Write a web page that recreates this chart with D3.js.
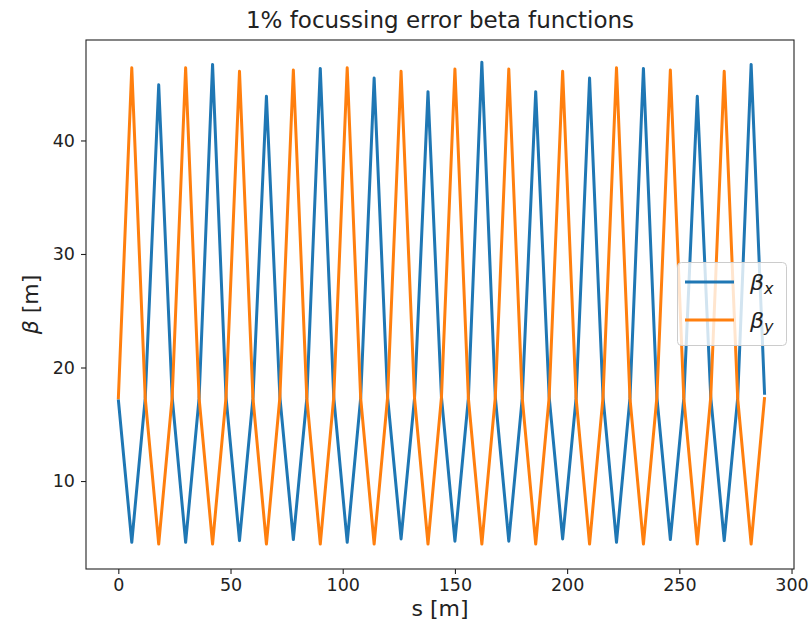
<!DOCTYPE html>
<html lang="en">
  <head>
    <meta charset="UTF-8" />
    <title>beta functions</title>
    <style>
      body {
        margin: 0;
        background: #fff;
      }
      svg text {
        font-family: "DejaVu Sans", sans-serif;
        fill: #222;
      }
    </style>
  </head>
  <body>
    <svg width="811" height="623" id="chart"></svg>

    <script src="https://d3js.org/d3.v7.min.js"></script>
    <script>
      // positions along the ring [m]
      var sPos = [
        0, 6, 12, 18, 24, 30, 36, 42, 48, 54, 60, 66, 72, 78, 84, 90, 96,
        102, 108, 114, 120, 126, 132, 138, 144, 150, 156, 162, 168, 174, 180,
        186, 192, 198, 204, 210, 216, 222, 228, 234, 240, 246, 252, 258, 264,
        270, 276, 282, 288
      ];
      var betaX = [
        17.2, 4.6, 17.3, 44.9, 17.4, 4.6, 17.3, 46.7, 17.4, 4.75, 17.3, 43.9,
        17.4, 4.85, 17.3, 46.35, 17.4, 4.6, 17.3, 45.5, 17.4, 4.9, 17.3, 44.3,
        17.4, 4.7, 17.3, 46.9, 17.4, 4.7, 17.3, 44.3, 17.4, 4.9, 17.3, 45.5,
        17.4, 4.6, 17.3, 46.35, 17.4, 4.85, 17.3, 43.9, 17.4, 4.75, 17.3, 46.7,
        17.6
      ];
      var betaY = [
        17.2, 46.4, 17.3, 4.45, 17.4, 46.4, 17.3, 4.45, 17.4, 46.1, 17.3, 4.45,
        17.4, 46.2, 17.3, 4.45, 17.4, 46.4, 17.3, 4.45, 17.4, 46.1, 17.3, 4.45,
        17.4, 46.3, 17.3, 4.45, 17.4, 46.3, 17.3, 4.45, 17.4, 46.1, 17.3, 4.45,
        17.4, 46.4, 17.3, 4.45, 17.4, 46.2, 17.3, 4.45, 17.4, 46.1, 17.3, 4.45,
        17.4
      ];
      var xTicks = [0, 50, 100, 150, 200, 250, 300];
      var yTicks = [10, 20, 30, 40];

      // note: "top" is taken by window.top, so use own names
      var padL = 86, padR = 794, padT = 40, padB = 569;
      var canvas = d3.select("#chart");

      var x = d3.scaleLinear().domain([-14.4, 301.1]).range([padL, padR]);
      var y = d3.scaleLinear().domain([2.25, 48.85]).range([padB, padT]);

      var clip = canvas.append("clipPath").attr("id", "plotclip");
      clip.append("rect")
        .attr("x", padL).attr("y", padT)
        .attr("width", padR - padL).attr("height", padB - padT);

      var series = [
        { name: "x", values: betaX, color: "#1f77b4" },
        { name: "y", values: betaY, color: "#ff7f0e" }
      ];

      var line = d3.line()
        .x(function (d) { return x(d[0]); })
        .y(function (d) { return y(d[1]); });

      canvas.append("g")
        .attr("clip-path", "url(#plotclip)")
        .selectAll("path")
        .data(series)
        .join("path")
        .attr("d", function (d) {
          return line(sPos.map(function (s, i) { return [s, d.values[i]]; }));
        })
        .attr("fill", "none")
        .attr("stroke", function (d) { return d.color; })
        .attr("stroke-width", 3)
        .attr("stroke-linejoin", "round");

      // axes
      var xAxis = canvas.append("g")
        .attr("transform", "translate(0," + padB + ")")
        .call(d3.axisBottom(x).tickValues(xTicks).tickSize(5).tickPadding(5).tickFormat(d3.format("d")));
      var yAxis = canvas.append("g")
        .attr("transform", "translate(" + padL + ",0)")
        .call(d3.axisLeft(y).tickValues(yTicks).tickSize(5).tickPadding(6).tickFormat(d3.format("d")));
      [xAxis, yAxis].forEach(function (ax) {
        ax.select(".domain").remove();
        ax.selectAll("line").attr("stroke", "#222").attr("stroke-width", 1.1);
        ax.selectAll("text")
          .style("font-size", "17.5px")
          .style("font-family", "DejaVu Sans")
          .attr("fill", "#222");
      });

      // frame
      canvas.append("rect")
        .attr("x", padL).attr("y", padT)
        .attr("width", padR - padL).attr("height", padB - padT)
        .attr("fill", "none")
        .attr("stroke", "#222")
        .attr("stroke-width", 1.1);

      // title and labels
      canvas.append("text")
        .attr("x", (padL + padR) / 2).attr("y", 28)
        .attr("text-anchor", "middle")
        .style("font-size", "23px")
        .text("1% focussing error beta functions");

      canvas.append("text")
        .attr("x", (padL + padR) / 2).attr("y", 616)
        .attr("text-anchor", "middle")
        .style("font-size", "22px")
        .text("s [m]");

      var ylab = canvas.append("text")
        .attr("transform", "translate(38," + (padT + padB) / 2 + ") rotate(-90)")
        .attr("text-anchor", "middle")
        .style("font-size", "22px");
      ylab.append("tspan").style("font-style", "italic").text("β");
      ylab.append("tspan").text(" [m]");

      // legend
      var lg = canvas.append("g");
      lg.append("rect")
        .attr("x", 677.5).attr("y", 262.5)
        .attr("width", 109).attr("height", 83)
        .attr("rx", 4)
        .attr("fill", "rgba(255,255,255,0.8)")
        .attr("stroke", "#ccc");
      lg.selectAll("g.item")
        .data(series)
        .join("g")
        .attr("class", "item")
        .attr("transform", function (d, i) { return "translate(0," + (282 + i * 38) + ")"; })
        .each(function (d) {
          var g = d3.select(this);
          g.append("line")
            .attr("x1", 685).attr("x2", 734)
            .attr("y1", 0).attr("y2", 0)
            .attr("stroke", d.color)
            .attr("stroke-width", 3);
          var t = g.append("text")
            .attr("x", 750).attr("y", 8)
            .style("font-size", "22px")
            .style("font-style", "italic");
          t.append("tspan").text("β");
          t.append("tspan")
            .attr("dy", 4)
            .style("font-size", "16px")
            .text(d.name);
        });
    </script>
  </body>
</html>
